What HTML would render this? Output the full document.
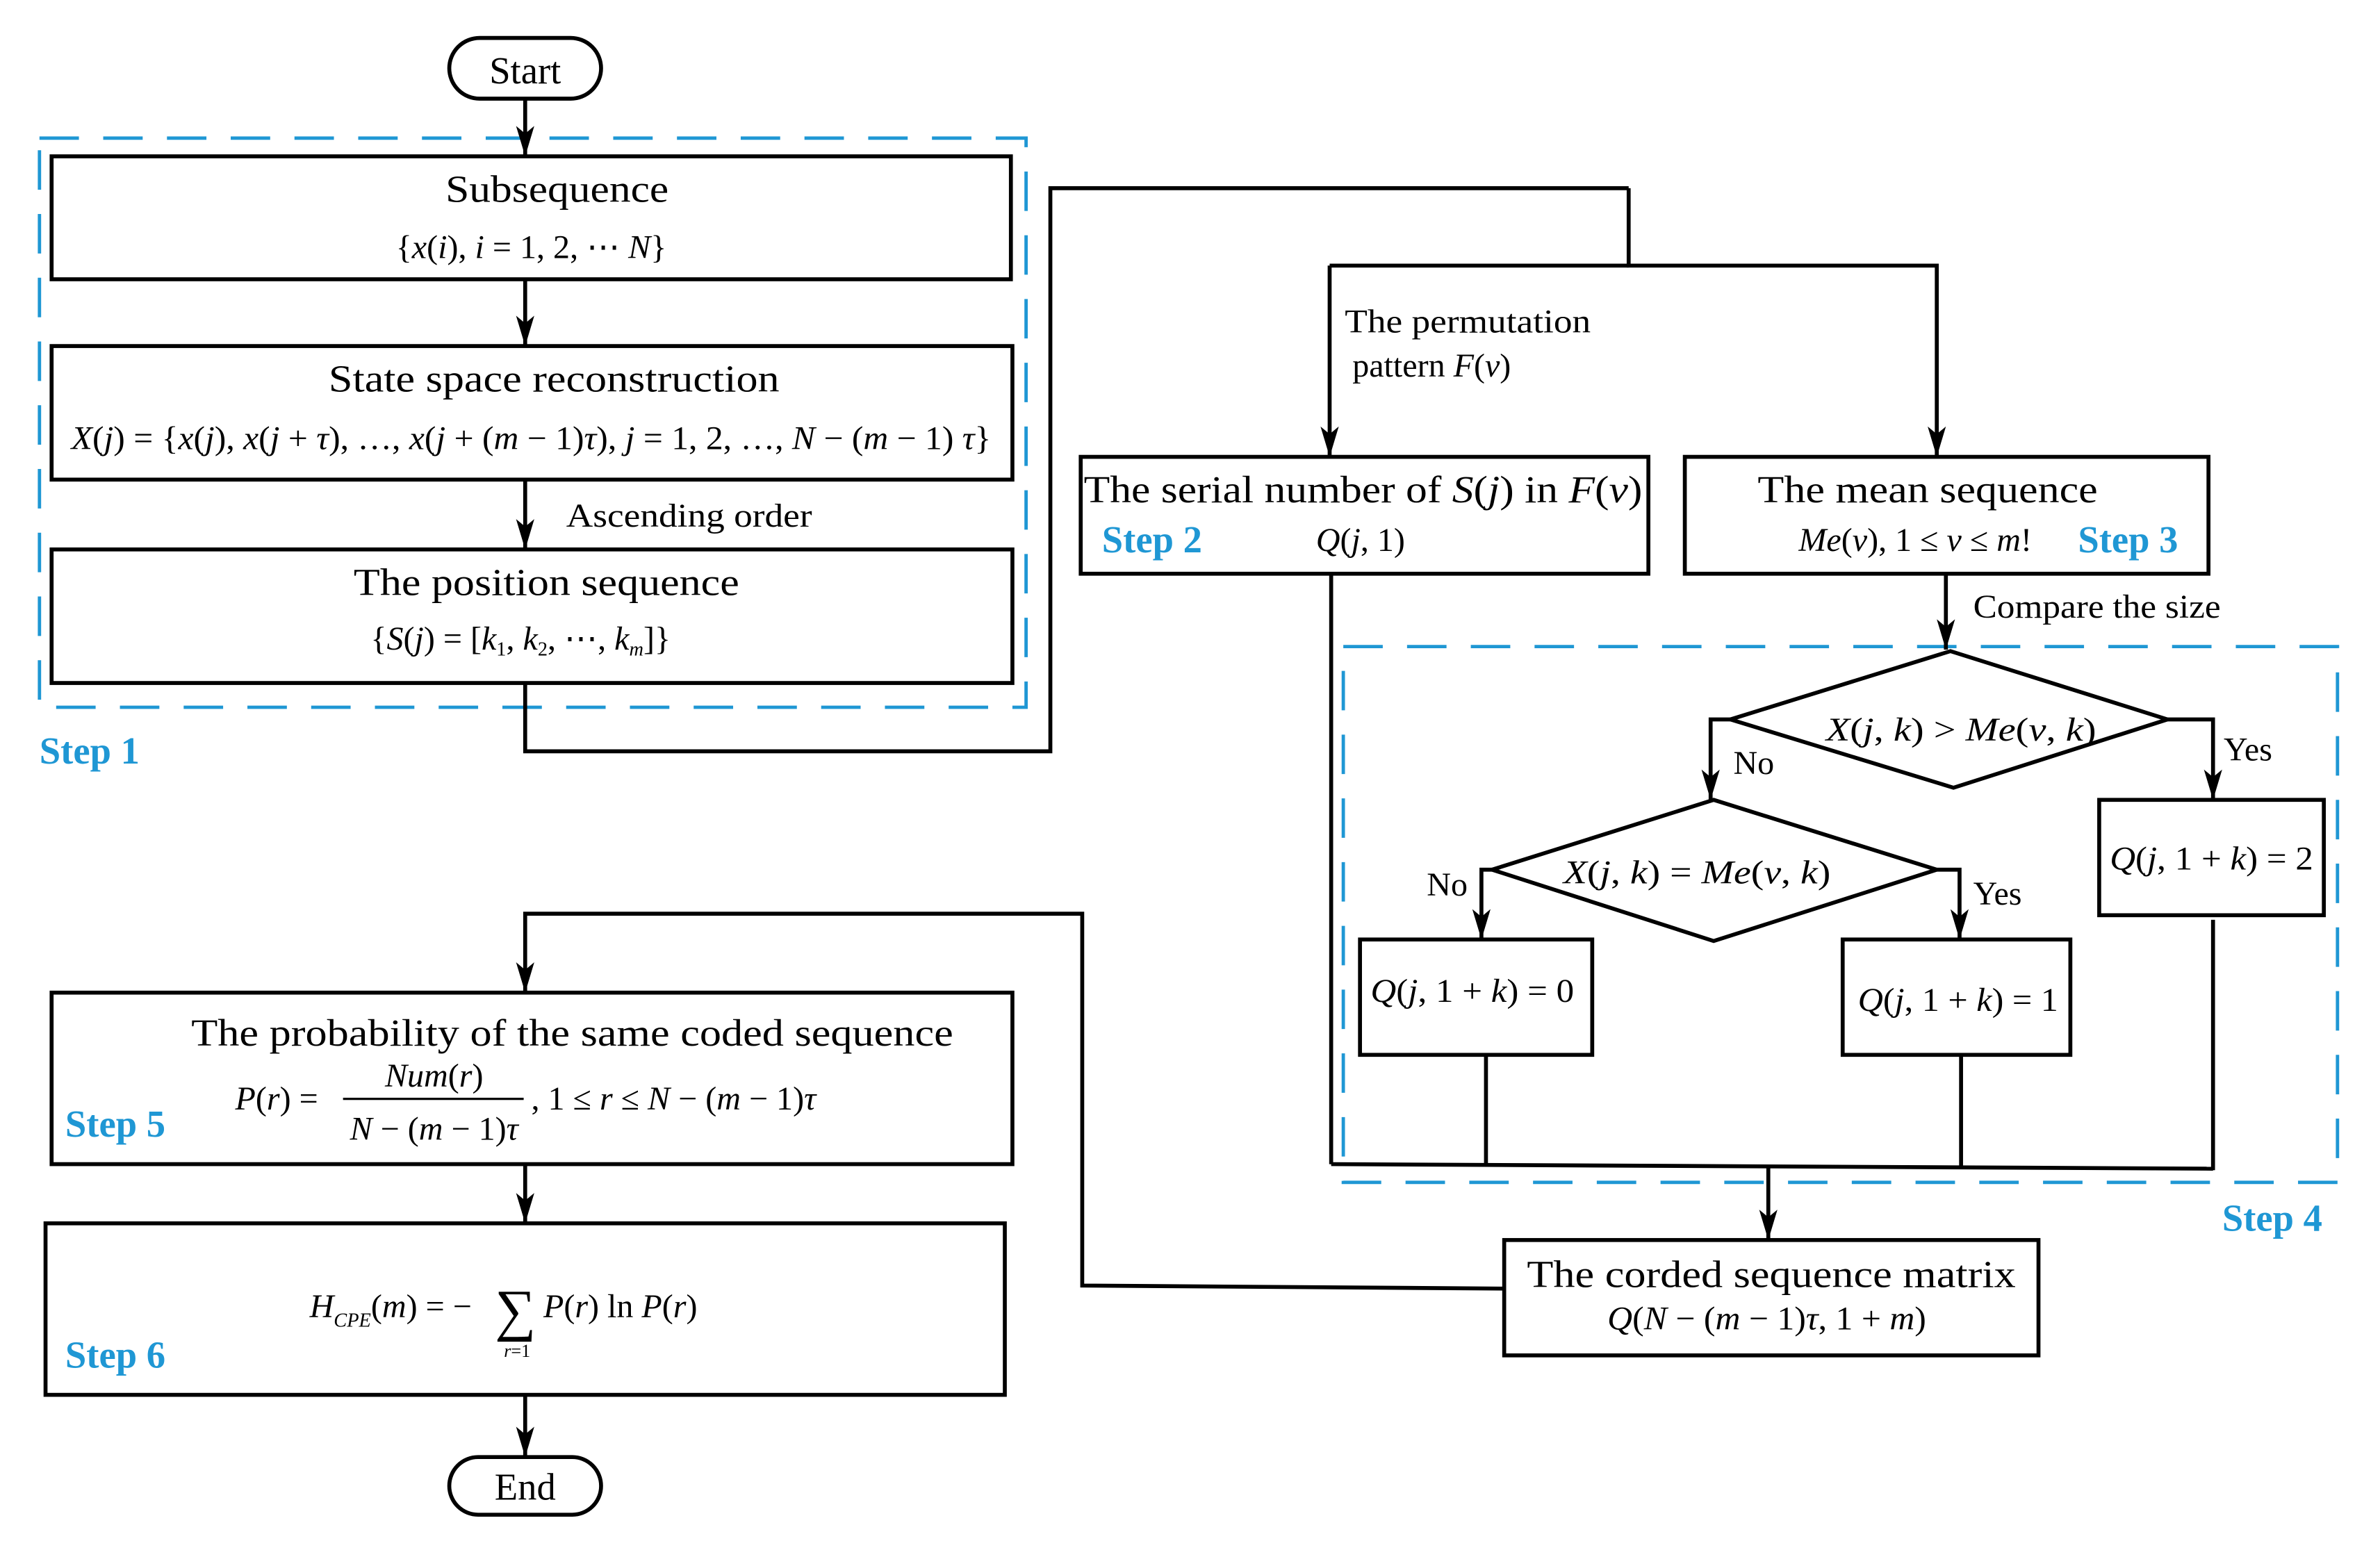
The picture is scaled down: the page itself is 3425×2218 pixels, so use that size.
<!DOCTYPE html>
<html><head><meta charset="utf-8"><style>
html,body{margin:0;padding:0;background:#fff}
svg{display:block}
text{font-family:"Liberation Serif",serif;fill:#000}
.i{font-style:italic}
.s{fill:#1f97d4;font-weight:bold}
</style></head><body>
<svg width="3425" height="2218" viewBox="0 0 1568 1015.3" preserveAspectRatio="none" xmlns="http://www.w3.org/2000/svg">
<defs>
<marker id="b" viewBox="0 0 20 12" refX="20" refY="6" markerWidth="20" markerHeight="12" markerUnits="userSpaceOnUse" orient="auto"><path d="M0,0 L20,6 L0,12 L5,6 Z" fill="#000"/></marker></defs>
<g fill="none" stroke="#1f97d4" stroke-width="2.2" stroke-dasharray="26,16">
<rect x="26" y="91" width="650" height="375"/>
<rect x="885" y="426" width="655" height="353"/>
</g>
<g fill="none" stroke="#000" stroke-width="2.6">
<rect x="296" y="25" width="100" height="40" rx="20"/>
<rect x="296" y="960" width="100" height="38" rx="19"/>
<rect x="34" y="103" width="632" height="81"/>
<rect x="34" y="228" width="633" height="88"/>
<rect x="34" y="362" width="633" height="88"/>
<rect x="712" y="301" width="374" height="77"/>
<rect x="1110" y="301" width="345" height="77"/>
<rect x="1383" y="527" width="148" height="76"/>
<rect x="896" y="619" width="153" height="76"/>
<rect x="1214" y="619" width="150" height="76"/>
<rect x="991" y="817" width="352" height="76"/>
<rect x="34" y="654" width="633" height="113"/>
<rect x="30" y="806" width="632" height="113"/>
<path d="M1140,474 L1285,429 L1428,474 L1287,519 Z"/>
<path d="M983,573 L1129,527 L1276,573 L1129,620 Z"/>
<g marker-end="url(#b)">
<path d="M346,65 V103"/>
<path d="M346,184 V228"/>
<path d="M346,316 V362"/>
<path d="M876,175 V301"/>
<path d="M1073,124 V175 H1276 V301"/>
<path d="M1282,378 V428"/>
<path d="M1140,474 H1127 V527"/>
<path d="M1428,474 H1458 V527"/>
<path d="M983,573 H976 V619"/>
<path d="M1276,573 H1291 V619"/>
<path d="M1165,769 V817"/>
<path d="M991,849 L713,847 V602 H346 V654"/>
<path d="M346,767 V806"/>
<path d="M346,919 V960"/>
</g>
<path d="M346,450 V495 H692 V124 H1073"/>
<path d="M876,175 H1073"/>
<path d="M877,378 V767"/>
<path d="M979,695 V768"/>
<path d="M1292,695 V770"/>
<path d="M1458,606 V771"/>
<path d="M877,767 L1458,770"/>
</g>
<line x1="226" y1="724" x2="345" y2="724" stroke="#000" stroke-width="1.5"/>
<g font-size="25">
<text x="346" y="55" text-anchor="middle">Start</text>
<text x="346" y="988" text-anchor="middle">End</text>
<text x="367" y="133" text-anchor="middle" textLength="147" lengthAdjust="spacingAndGlyphs">Subsequence</text>
<text x="365" y="258" text-anchor="middle" textLength="297" lengthAdjust="spacingAndGlyphs">State space reconstruction</text>
<text x="360" y="392" text-anchor="middle" textLength="254" lengthAdjust="spacingAndGlyphs">The position sequence</text>
<text x="714" y="331" textLength="368" lengthAdjust="spacingAndGlyphs">The serial number of <tspan class="i">S</tspan>(<tspan class="i">j</tspan>) in <tspan class="i">F</tspan>(<tspan class="i">v</tspan>)</text>
<text x="1270" y="331" text-anchor="middle" textLength="224" lengthAdjust="spacingAndGlyphs">The mean sequence</text>
<text x="377" y="689" text-anchor="middle" textLength="502" lengthAdjust="spacingAndGlyphs">The probability of the same coded sequence</text>
<text x="1167" y="848" text-anchor="middle" textLength="322" lengthAdjust="spacingAndGlyphs">The corded sequence matrix</text>
</g>
<g font-size="22">
<text x="373" y="347" textLength="162" lengthAdjust="spacingAndGlyphs">Ascending order</text>
<text x="886" y="219" textLength="162" lengthAdjust="spacingAndGlyphs">The permutation</text>
<text x="891" y="248">pattern <tspan class="i">F</tspan>(<tspan class="i">v</tspan>)</text>
<text x="1300" y="407" textLength="163" lengthAdjust="spacingAndGlyphs">Compare the size</text>
<text x="1142" y="510">No</text>
<text x="1465" y="501">Yes</text>
<text x="940" y="590">No</text>
<text x="1300" y="596">Yes</text>
</g>
<g font-size="22">
<text x="350" y="170" text-anchor="middle">{<tspan class="i">x</tspan>(<tspan class="i">i</tspan>), <tspan class="i">i</tspan> = 1, 2, ⋯ <tspan class="i">N</tspan>}</text>
<text x="350" y="296" text-anchor="middle" textLength="606" lengthAdjust="spacingAndGlyphs"><tspan class="i">X</tspan>(<tspan class="i">j</tspan>) = {<tspan class="i">x</tspan>(<tspan class="i">j</tspan>), <tspan class="i">x</tspan>(<tspan class="i">j</tspan> + <tspan class="i">τ</tspan>), …, <tspan class="i">x</tspan>(<tspan class="i">j</tspan> + (<tspan class="i">m</tspan> − 1)<tspan class="i">τ</tspan>), <tspan class="i">j</tspan> = 1, 2, …, <tspan class="i">N</tspan> − (<tspan class="i">m</tspan> − 1) <tspan class="i">τ</tspan>}</text>
<text x="343" y="428" text-anchor="middle">{<tspan class="i">S</tspan>(<tspan class="i">j</tspan>) = [<tspan class="i">k</tspan><tspan font-size="13" dy="4">1</tspan><tspan dy="-4">, </tspan><tspan class="i">k</tspan><tspan font-size="13" dy="4">2</tspan><tspan dy="-4">, ⋯, </tspan><tspan class="i">k</tspan><tspan font-size="13" dy="4" class="i">m</tspan><tspan dy="-4">]}</tspan></text>
<text x="867" y="363"><tspan class="i">Q</tspan>(<tspan class="i">j</tspan>, 1)</text>
<text x="1185" y="363"><tspan class="i">Me</tspan>(<tspan class="i">v</tspan>), 1 ≤ <tspan class="i">v</tspan> ≤ <tspan class="i">m</tspan>!</text>
<text x="1292" y="488" text-anchor="middle" textLength="178" lengthAdjust="spacingAndGlyphs"><tspan class="i">X</tspan>(<tspan class="i">j</tspan>, <tspan class="i">k</tspan>) &gt; <tspan class="i">Me</tspan>(<tspan class="i">v</tspan>, <tspan class="i">k</tspan>)</text>
<text x="1118" y="582" text-anchor="middle" textLength="176" lengthAdjust="spacingAndGlyphs"><tspan class="i">X</tspan>(<tspan class="i">j</tspan>, <tspan class="i">k</tspan>) = <tspan class="i">Me</tspan>(<tspan class="i">v</tspan>, <tspan class="i">k</tspan>)</text>
<text x="1457" y="573" text-anchor="middle" textLength="134" lengthAdjust="spacingAndGlyphs"><tspan class="i">Q</tspan>(<tspan class="i">j</tspan>, 1 + <tspan class="i">k</tspan>) = 2</text>
<text x="970" y="660" text-anchor="middle" textLength="134" lengthAdjust="spacingAndGlyphs"><tspan class="i">Q</tspan>(<tspan class="i">j</tspan>, 1 + <tspan class="i">k</tspan>) = 0</text>
<text x="1290" y="666" text-anchor="middle" textLength="132" lengthAdjust="spacingAndGlyphs"><tspan class="i">Q</tspan>(<tspan class="i">j</tspan>, 1 + <tspan class="i">k</tspan>) = 1</text>
<text x="1164" y="876" text-anchor="middle" textLength="210" lengthAdjust="spacingAndGlyphs"><tspan class="i">Q</tspan>(<tspan class="i">N</tspan> − (<tspan class="i">m</tspan> − 1)<tspan class="i">τ</tspan>, 1 + <tspan class="i">m</tspan>)</text>
<text x="155" y="731"><tspan class="i">P</tspan>(<tspan class="i">r</tspan>) =</text>
<text x="286" y="716" text-anchor="middle"><tspan class="i">Num</tspan>(<tspan class="i">r</tspan>)</text>
<text x="286" y="751" text-anchor="middle"><tspan class="i">N</tspan> − (<tspan class="i">m</tspan> − 1)<tspan class="i">τ</tspan></text>
<text x="350" y="731">, 1 ≤ <tspan class="i">r</tspan> ≤ <tspan class="i">N</tspan> − (<tspan class="i">m</tspan> − 1)<tspan class="i">τ</tspan></text>
<text x="204" y="868"><tspan class="i">H</tspan><tspan class="i" font-size="13" dy="6">CPE</tspan><tspan dy="-6">(</tspan><tspan class="i">m</tspan>) = −</text>
<text x="326" y="876" font-size="38">∑</text>
<text x="358" y="868"><tspan class="i">P</tspan>(<tspan class="i">r</tspan>) ln <tspan class="i">P</tspan>(<tspan class="i">r</tspan>)</text>
<text x="332" y="894" font-size="12"><tspan class="i">r</tspan>=1</text>
</g>
<g font-size="25">
<text class="s" x="26" y="503">Step 1</text>
<text class="s" x="726" y="364">Step 2</text>
<text class="s" x="1369" y="364">Step 3</text>
<text class="s" x="1464" y="811">Step 4</text>
<text class="s" x="43" y="749">Step 5</text>
<text class="s" x="43" y="901">Step 6</text>
</g>
</svg>
</body></html>
